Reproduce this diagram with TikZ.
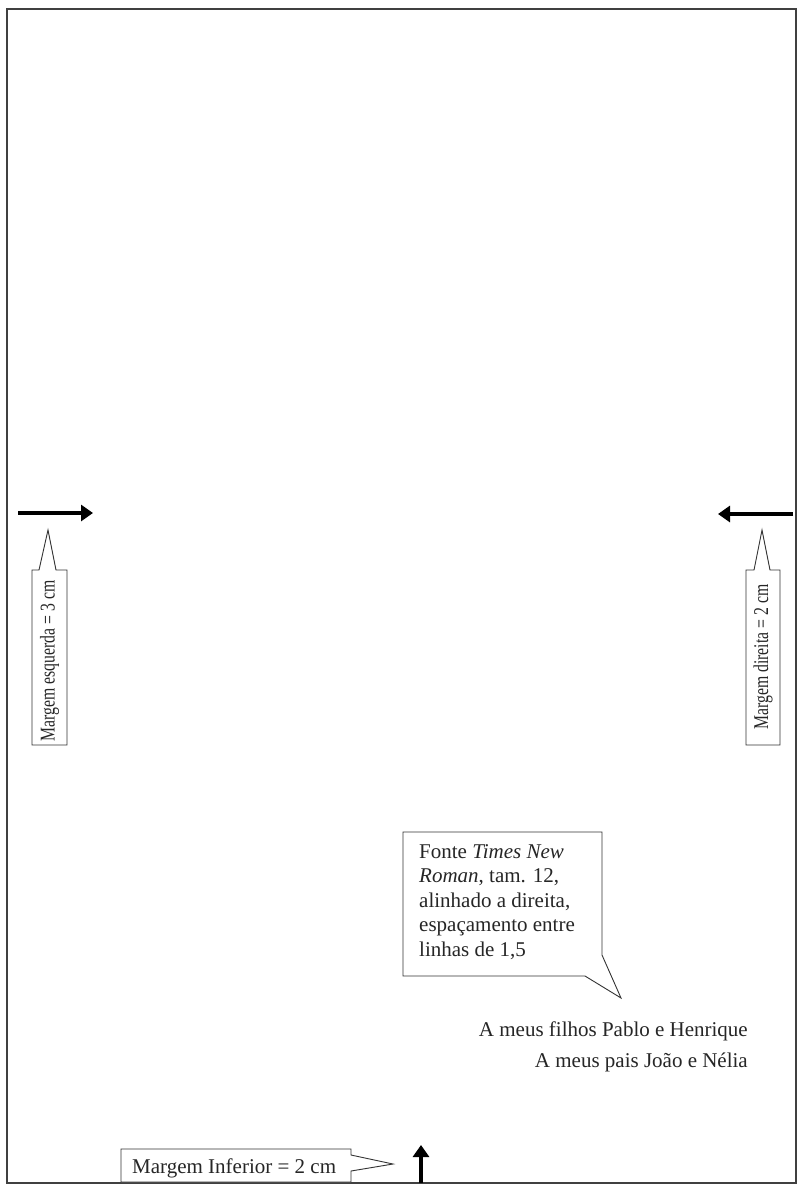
\documentclass[tikz,border=0pt]{standalone}
\usepackage{fontspec}
\setmainfont{Liberation Serif}
\usetikzlibrary{arrows.meta}
\tikzset{
  frameline/.style={draw=black!75, line width=1.4pt},
  callout/.style={draw=black!80, line width=0.9pt, fill=white},
  bigarrow/.style={line width=4.5pt, -{Triangle[length=12pt,width=16pt]}},
  txt/.style={text=black!85, inner sep=0pt},
  bigfont/.style={font=\fontsize{21}{24.5}\selectfont},
}
\newcommand{\sidelabel}[1]{\scalebox{0.75}[1]{\fontsize{21}{24}\selectfont #1}}
\begin{document}
\begin{tikzpicture}[x=1pt,y=-1pt]
\useasboundingbox (0,0) rectangle (798,1192);
\fill[white] (0,0) rectangle (798,1192);
\draw[frameline] (7,9) rectangle (796,1183);

% left margin arrow + callout
\coordinate (la1) at (18,513);
\coordinate (la2) at (93,513);
\draw[bigarrow] (la1) -- (la2);
\draw[callout] (32,570) -- (39,570) -- (48,530) -- (56,570) -- (67,570) -- (67,745) -- (32,745) -- cycle;
\node[txt, rotate=90] (lefttxt) at (49.5,661) {\sidelabel{Margem esquerda = 3 cm}};

% right margin arrow + callout
\coordinate (ra1) at (793,514);
\coordinate (ra2) at (718,514);
\draw[bigarrow] (ra1) -- (ra2);
\draw[callout] (746,570) -- (754,570) -- (762,530) -- (770,570) -- (780,570) -- (780,745) -- (746,745) -- cycle;
\node[txt, rotate=90] (righttxt) at (763,657) {\sidelabel{Margem direita = 2 cm}};

% font callout
\draw[callout] (403,832) -- (602,832) -- (602,955) -- (621,998) -- (585,976) -- (403,976) -- cycle;
\node[txt, bigfont, anchor=north west, align=left] (fonttxt) at (419,844)
  {Fonte \textit{Times New}\\ \textit{Roman}, tam. 12,\\ alinhado a direita,\\ espaçamento entre\\ linhas de 1,5};

% dedication
\node[txt, bigfont, anchor=base east] (ded1) at (748,1036) {A meus filhos Pablo e Henrique};
\node[txt, bigfont, anchor=base east] (ded2) at (748,1067) {A meus pais João e Nélia};

% bottom margin callout + arrow
\draw[callout] (121,1149) -- (351,1149) -- (351,1155) -- (393,1164) -- (351,1171) -- (351,1182) -- (121,1182) -- cycle;
\node[txt, bigfont, anchor=base west] (bottxt) at (132,1173) {Margem Inferior = 2 cm};
\coordinate (ba1) at (421,1183);
\coordinate (ba2) at (421,1145);
\draw[line width=4pt, -{Triangle[length=12pt,width=16pt]}] (ba1) -- (ba2);
\end{tikzpicture}
\end{document}
